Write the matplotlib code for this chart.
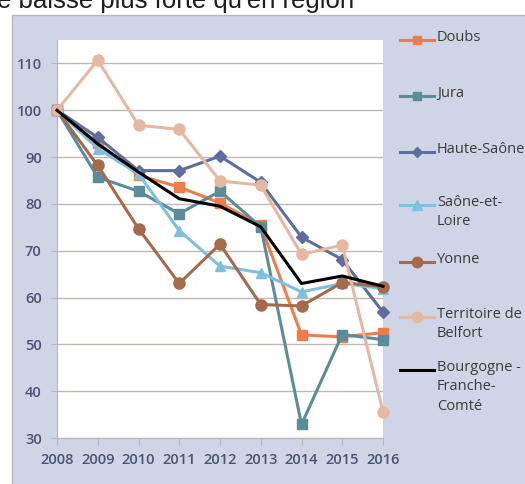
import matplotlib.pyplot as plt
from matplotlib.patches import Rectangle
from matplotlib.lines import Line2D

years = [2008, 2009, 2010, 2011, 2012, 2013, 2014, 2015, 2016]

doubs = [100, 93.0, 86.1, 83.6, 80.2, 75.4, 52.0, 51.6, 52.5]
jura = [100, 85.7, 82.7, 77.9, 82.7, 75.1, 32.9, 52.1, 51.0]
haute_saone = [100, 94.2, 87.1, 87.1, 90.2, 84.6, 72.9, 68.1, 56.9]
saone_loire = [100, 91.8, 86.4, 74.3, 66.7, 65.3, 61.2, 63.0, 61.9]
yonne = [100, 88.2, 74.7, 63.0, 71.4, 58.5, 58.2, 63.2, 62.3]
belfort = [100, 110.7, 96.8, 95.9, 84.9, 84.0, 69.2, 71.2, 35.6]
bfc = [100, 92.8, 86.8, 81.1, 79.5, 75.1, 63.0, 64.6, 62.4]

series = [
    ("Doubs", doubs, "#ED7D4A", "s"),
    ("Jura", jura, "#5B8C9A", "s"),
    ("Haute-Saône", haute_saone, "#5F6E9E", "D"),
    ("Saône-et-\nLoire", saone_loire, "#7EC0DE", "^"),
    ("Yonne", yonne, "#A5694C", "o"),
    ("Territoire de\nBelfort", belfort, "#E5B8A2", "o"),
    ("Bourgogne -\nFranche-\nComté", bfc, "#000000", None),
]
msize = {"s": 6.5, "D": 6, "^": 7.5, "o": 8}

plt.rcParams['font.family'] = ['Open Sans', 'DejaVu Sans']

fig = plt.figure(figsize=(5.25, 4.84), dpi=100)
fig.patch.set_facecolor("white")

# lavender panel
W, H = 525.0, 484.0
fig.add_artist(Rectangle((12 / W, -0.05), 1, 1.05 - 15 / H, transform=fig.transFigure,
                         facecolor="#CFD5E6", edgecolor="#B8B8B8", lw=1, zorder=0))

# title, cut off at the top as in the source
fig.text(-3 / W, 1 - 8 / H, "e baisse plus forte qu'en région", fontsize=18.5,
         color="#1E1E1E", va="baseline", ha="left", family="Liberation Sans")

ax = fig.add_axes([57 / W, 1 - 438 / H, 326 / W, 398 / H])
ax.set_facecolor("white")

lines = []
for name, vals, col, mk in series:
    if mk is None:
        l, = ax.plot(years, vals, color=col, lw=2.2, clip_on=False, zorder=5)
    else:
        l, = ax.plot(years, vals, color=col, lw=2.2, marker=mk,
                     markersize=msize[mk], clip_on=False, zorder=3)
    lines.append(l)

ax.set_xlim(2008, 2016)
ax.set_ylim(30, 115)
ax.set_yticks(range(30, 111, 10))
ax.set_xticks(years)
ax.grid(axis="y", color="#C3B9B2", lw=1)
ax.set_axisbelow(True)
for s in ["top", "right"]:
    ax.spines[s].set_visible(False)
for s in ["left", "bottom"]:
    ax.spines[s].set_color("#BDB5AE")
ax.tick_params(axis="x", colors="#BDB5AE", length=5, pad=6, labelcolor="#4A5373", labelsize=10.5)
ax.tick_params(axis="y", colors="#BDB5AE", length=4, pad=7, labelcolor="#4A5373", labelsize=10.5)
for t in ax.get_xticklabels() + ax.get_yticklabels():
    t.set_fontweight("semibold")

# legend, drawn entry by entry like Excel
legend_y = [40, 96, 152, 205, 262, 317, 370]
for l, (name, vals, col, mk), yy in zip(lines, series, legend_y):
    yf = 1 - yy / H
    fig.add_artist(Line2D([400 / W, 434 / W], [yf, yf], transform=fig.transFigure,
                          color=col, lw=2.2))
    if mk is not None:
        fig.add_artist(Line2D([417 / W], [yf], transform=fig.transFigure, color=col,
                              marker=mk, markersize=msize[mk] - 0.5))
    fig.text(437 / W, yf + 10 / H, name, fontsize=10.5, color="#3A3A3A", va="top",
             ha="left", linespacing=1.4)

fig.savefig("out.png", dpi=100)
